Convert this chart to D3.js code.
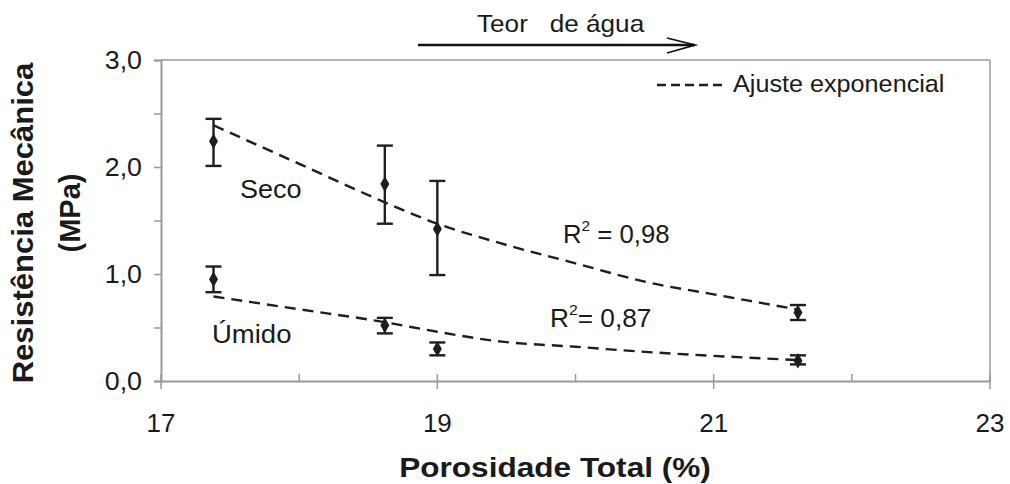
<!DOCTYPE html>
<html>
<head>
<meta charset="utf-8">
<script src="https://cdn.jsdelivr.net/npm/d3@7"></script>
<style>
  html, body { margin: 0; padding: 0; background: #fff; }
  svg { display: block; }
  text { font-family: "Liberation Sans", Arial, sans-serif; fill: #1a1a1a; }
</style>
</head>
<body>
<svg id="chart" width="1010" height="484"></svg>
<script>
// ---- data ----
const porosidade = [17.38, 18.62, 19.0, 21.61];
const secoMean  = [2.24, 1.84, 1.42, 0.64];
const secoHigh  = [2.45, 2.20, 1.87, 0.71];
const secoLow   = [2.01, 1.47, 0.99, 0.57];
const umidoMean = [0.95, 0.52, 0.30, 0.19];
const umidoHigh = [1.07, 0.59, 0.36, 0.24];
const umidoLow  = [0.83, 0.445, 0.24, 0.155];

// exponential fit curves
const fitX      = [17.38, 18.0, 18.62, 19.0, 19.45, 20.0, 20.53, 21.0, 21.6];
const secoFit   = [2.39, 2.03, 1.67, 1.47, 1.29, 1.10, 0.92, 0.81, 0.67];
const umidoFit  = [0.79, 0.67, 0.55, 0.46, 0.37, 0.32, 0.27, 0.235, 0.196];

const xMajor = [17, 19, 21, 23];
const xMinor = [18, 20, 22];
const yMajor = [0, 1, 2, 3];
const yMinor = [0.5, 1.5, 2.5];
const yTickLabels = ["0,0", "1,0", "2,0", "3,0"];

const svg = d3.select("#chart");
const x = d3.scaleLinear().domain([17, 23]).range([161, 990]);
const y = d3.scaleLinear().domain([0, 3]).range([381, 60]);
const axisColor = "#9a9a9a";
const ink = "#1e1e1e";

function label(txt, px, py, size, anchor, weight, sx) {
  return svg.append("text")
    .attr("transform", `translate(${px},${py}) scale(${sx || 1},1)`)
    .attr("text-anchor", anchor || "start")
    .attr("font-size", size)
    .attr("font-weight", weight || "normal")
    .style("white-space", "pre")
    .text(txt);
}

// plot frame: top and right lines
svg.append("line").attr("x1", x(17)).attr("x2", x(23)).attr("y1", y(3)).attr("y2", y(3))
  .attr("stroke", axisColor).attr("stroke-width", 1.5);
svg.append("line").attr("x1", x(23)).attr("x2", x(23)).attr("y1", y(3)).attr("y2", y(0))
  .attr("stroke", axisColor).attr("stroke-width", 1.5);

// x axis
const xAxisMajor = d3.axisBottom(x).tickValues(xMajor).tickSize(0).tickFormat("");
svg.append("g").attr("transform", `translate(0,${y(0)})`).call(xAxisMajor)
  .call(g => g.select(".domain").attr("stroke", axisColor).attr("stroke-width", 2));
xMajor.forEach(v => svg.append("line").attr("x1", x(v)).attr("x2", x(v))
  .attr("y1", y(0) - 7).attr("y2", y(0) + 8).attr("stroke", axisColor).attr("stroke-width", 1.5));
xMinor.forEach(v => svg.append("line").attr("x1", x(v)).attr("x2", x(v))
  .attr("y1", y(0) - 7).attr("y2", y(0)).attr("stroke", axisColor).attr("stroke-width", 1.5));
xMajor.forEach(v => label(String(v), x(v), 432, 26, "middle"));

// y axis
const yAxis = d3.axisLeft(y).tickValues(yMajor.concat(yMinor)).tickSize(7).tickFormat("");
svg.append("g").attr("transform", `translate(${x(17)},0)`).call(yAxis)
  .call(g => g.select(".domain").attr("stroke", axisColor).attr("stroke-width", 2))
  .call(g => g.selectAll(".tick line").attr("stroke", axisColor).attr("stroke-width", 1.5));
yMajor.forEach((v, i) => label(yTickLabels[i], 142, y(v) + 9, 26, "end", "normal", 1.03));

// axis titles
label("Porosidade Total (%)", 555, 477, 27, "middle", "bold", 1.17);
svg.append("text").attr("transform", "translate(33,223) rotate(-90) scale(1.07,1)")
  .attr("text-anchor", "middle").attr("font-size", 29).attr("font-weight", "bold")
  .text("Resistência Mecânica");
svg.append("text").attr("transform", "translate(80,213) rotate(-90)")
  .attr("text-anchor", "middle").attr("font-size", 29).attr("font-weight", "bold")
  .text("(MPa)");

// fit curves
const line = d3.line().x(d => x(d[0])).y(d => y(d[1])).curve(d3.curveMonotoneX);
[secoFit, umidoFit].forEach(arr => {
  svg.append("path").datum(fitX.map((v, i) => [v, arr[i]]))
    .attr("d", line).attr("fill", "none").attr("stroke", ink)
    .attr("stroke-width", 2.4).attr("stroke-dasharray", "11,7");
});

// error bars and markers
function series(mean, hi, lo) {
  const g = svg.append("g");
  porosidade.forEach((p, i) => {
    const cx = x(p);
    g.append("line").attr("x1", cx).attr("x2", cx).attr("y1", y(hi[i])).attr("y2", y(lo[i]))
      .attr("stroke", ink).attr("stroke-width", 2.4);
    [hi[i], lo[i]].forEach(v => g.append("line").attr("x1", cx - 8).attr("x2", cx + 8)
      .attr("y1", y(v)).attr("y2", y(v)).attr("stroke", ink).attr("stroke-width", 2.4));
    g.append("path").attr("d", d3.symbol(d3.symbolDiamond, 70)())
      .attr("transform", `translate(${cx},${y(mean[i])})`).attr("fill", ink);
  });
}
series(secoMean, secoHigh, secoLow);
series(umidoMean, umidoHigh, umidoLow);

// annotations
label("Seco", 240, 198, 25, "start", "normal", 1.08);
label("Úmido", 212, 343, 25, "start", "normal", 1.1);
const r1 = label("R", 563, 243, 25, "start", "normal", 1.03);
r1.append("tspan").attr("dy", -12).attr("font-size", 15).text("2");
r1.append("tspan").attr("dy", 12).text(" = 0,98");
const r2 = label("R", 550, 327, 25, "start", "normal", 1.05);
r2.append("tspan").attr("dy", -12).attr("font-size", 15).text("2");
r2.append("tspan").attr("dy", 12).text("= 0,87");

// top arrow "Teor de água"
label("Teor   de água", 477, 32, 24, "start", "normal", 1.09);
svg.append("line").attr("x1", 418).attr("x2", 695).attr("y1", 45).attr("y2", 45)
  .attr("stroke", "#111").attr("stroke-width", 2.6);
svg.append("path").attr("d", "M667,38 L695,45 L667,53").attr("fill", "none")
  .attr("stroke", "#111").attr("stroke-width", 1.8);

// legend
svg.append("line").attr("x1", 657).attr("x2", 725).attr("y1", 85).attr("y2", 85)
  .attr("stroke", ink).attr("stroke-width", 2.5).attr("stroke-dasharray", "9,5");
label("Ajuste exponencial", 733, 92, 24, "start", "normal", 1.05);
</script>
</body>
</html>
